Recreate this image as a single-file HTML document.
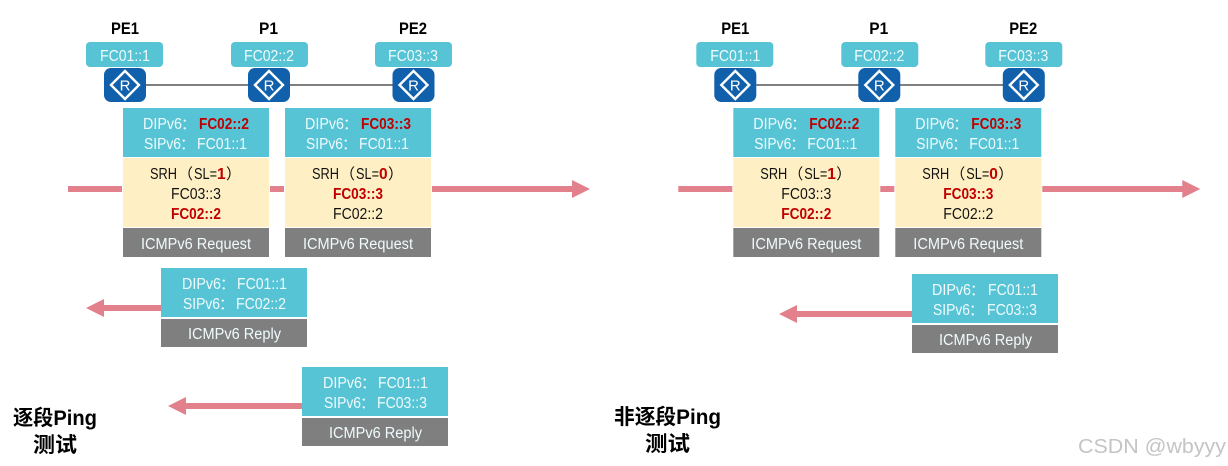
<!DOCTYPE html>
<html lang="zh">
<head>
<meta charset="utf-8">
<title>Ping</title>
<style>
html,body{margin:0;padding:0;background:#fff;width:1228px;height:466px;overflow:hidden}
svg{display:block}
text{font-family:"Liberation Sans","Noto Sans CJK SC",sans-serif;font-size:15.5px}
.c{font-family:"Noto Sans CJK SC",sans-serif;font-size:15px}
.w{fill:#f0fbfd}
.k{fill:#111}
.r{fill:#c00000;font-weight:bold}
.h{fill:#000;font-weight:bold;font-size:17px}
.t{fill:#000;font-weight:bold;font-size:21px}
.wm{fill:#c4c4c4;font-size:20px}
.rl{fill:#fff;font-size:15px}
</style>
</head>
<body>
<svg width="1228" height="466" viewBox="0 0 1228 466" xmlns="http://www.w3.org/2000/svg">
<defs>
<g id="rt">
<rect x="0" y="0" width="42" height="34" rx="7" fill="#1160ab"/>
<polygon points="21,3 35,17 21,31 7,17" fill="none" stroke="#fff" stroke-width="2.4"/>
</g>
</defs>

<!-- LEFT -->
<g id="left">
<rect x="146" y="84" width="247" height="2" fill="#7f7f7f"/>
<rect x="86" y="42" width="77" height="25" rx="4" fill="#57c4d5"/>
<rect x="231" y="42" width="77" height="25" rx="4" fill="#57c4d5"/>
<rect x="375" y="42" width="77" height="25" rx="4" fill="#57c4d5"/>
<text class="h" x="111" y="34" textLength="28" lengthAdjust="spacingAndGlyphs">PE1</text>
<text class="h" x="259" y="34" textLength="19" lengthAdjust="spacingAndGlyphs">P1</text>
<text class="h" x="399" y="34" textLength="28" lengthAdjust="spacingAndGlyphs">PE2</text>
<text class="w" x="100" y="61" textLength="50" lengthAdjust="spacingAndGlyphs">FC01::1</text>
<text class="w" x="244" y="61" textLength="50" lengthAdjust="spacingAndGlyphs">FC02::2</text>
<text class="w" x="388" y="61" textLength="50" lengthAdjust="spacingAndGlyphs">FC03::3</text>
<use href="#rt" x="104" y="68"/><text class="rl" x="125" y="90.500" text-anchor="middle">R</text>
<use href="#rt" x="248" y="68"/><text class="rl" x="269" y="90.500" text-anchor="middle">R</text>
<use href="#rt" x="392.500" y="68"/><text class="rl" x="413.500" y="90.500" text-anchor="middle">R</text>

<rect x="68" y="186" width="54" height="6" fill="#e2808c"/>
<rect x="270" y="186" width="14" height="6" fill="#e2808c"/>
<path d="M432 186H572V180L590 189L572 198V192H432Z" fill="#e2808c"/>

<g transform="translate(123,108)">
<rect width="146" height="49" fill="#57c4d5"/><rect y="50" width="146" height="69" fill="#ffefc4"/><rect y="120" width="146" height="29" fill="#7f7f7f"/>
<text class="w" x="20" y="21" textLength="39" lengthAdjust="spacingAndGlyphs">DIPv6</text><text class="w c" x="58" y="21">&#xFF1A;</text>
<text class="r" x="76" y="21" textLength="50" lengthAdjust="spacingAndGlyphs">FC02::2</text>
<text class="w" x="21" y="41" textLength="37" lengthAdjust="spacingAndGlyphs">SIPv6</text><text class="w c" x="57" y="41">&#xFF1A;</text>
<text class="w" x="74" y="41" textLength="50" lengthAdjust="spacingAndGlyphs">FC01::1</text>
<text class="k" x="27" y="71" textLength="27" lengthAdjust="spacingAndGlyphs">SRH</text>
<text class="k c" x="55" y="71">&#xFF08;</text>
<text class="k" x="71" y="71" textLength="23" lengthAdjust="spacingAndGlyphs">SL=</text>
<text class="r" x="94" y="71">1</text>
<text class="k c" x="103" y="71">&#xFF09;</text>
<text class="k" x="48" y="91" textLength="50" lengthAdjust="spacingAndGlyphs">FC03::3</text>
<text class="r" x="48" y="111" textLength="50" lengthAdjust="spacingAndGlyphs">FC02::2</text>
<text class="w" x="18" y="141" textLength="110" lengthAdjust="spacingAndGlyphs">ICMPv6 Request</text>
</g>
<g transform="translate(285,108)">
<rect width="146" height="49" fill="#57c4d5"/><rect y="50" width="146" height="69" fill="#ffefc4"/><rect y="120" width="146" height="29" fill="#7f7f7f"/>
<text class="w" x="20" y="21" textLength="39" lengthAdjust="spacingAndGlyphs">DIPv6</text><text class="w c" x="58" y="21">&#xFF1A;</text>
<text class="r" x="76" y="21" textLength="50" lengthAdjust="spacingAndGlyphs">FC03::3</text>
<text class="w" x="21" y="41" textLength="37" lengthAdjust="spacingAndGlyphs">SIPv6</text><text class="w c" x="57" y="41">&#xFF1A;</text>
<text class="w" x="74" y="41" textLength="50" lengthAdjust="spacingAndGlyphs">FC01::1</text>
<text class="k" x="27" y="71" textLength="27" lengthAdjust="spacingAndGlyphs">SRH</text>
<text class="k c" x="55" y="71">&#xFF08;</text>
<text class="k" x="71" y="71" textLength="23" lengthAdjust="spacingAndGlyphs">SL=</text>
<text class="r" x="94" y="71">0</text>
<text class="k c" x="103" y="71">&#xFF09;</text>
<text class="r" x="48" y="91" textLength="50" lengthAdjust="spacingAndGlyphs">FC03::3</text>
<text class="k" x="48" y="111" textLength="50" lengthAdjust="spacingAndGlyphs">FC02::2</text>
<text class="w" x="18" y="141" textLength="110" lengthAdjust="spacingAndGlyphs">ICMPv6 Request</text>
</g>

<path d="M161 305H104V299L86 308L104 317V311H161Z" fill="#e2808c"/>
<g transform="translate(161,268)">
<rect width="146" height="49" fill="#57c4d5"/><rect y="51" width="146" height="28" fill="#7f7f7f"/>
<text class="w" x="21" y="21" textLength="39" lengthAdjust="spacingAndGlyphs">DIPv6</text><text class="w c" x="59" y="21">&#xFF1A;</text>
<text class="w" x="76" y="21" textLength="50" lengthAdjust="spacingAndGlyphs">FC01::1</text>
<text class="w" x="22" y="41" textLength="37" lengthAdjust="spacingAndGlyphs">SIPv6</text><text class="w c" x="58" y="41">&#xFF1A;</text>
<text class="w" x="75" y="41" textLength="50" lengthAdjust="spacingAndGlyphs">FC02::2</text>
<text class="w" x="27" y="71" textLength="93" lengthAdjust="spacingAndGlyphs">ICMPv6 Reply</text>
</g>

<path d="M302 403H186V397L168 406L186 415V409H302Z" fill="#e2808c"/>
<g transform="translate(302,367)">
<rect width="146" height="49" fill="#57c4d5"/><rect y="51" width="146" height="28" fill="#7f7f7f"/>
<text class="w" x="21" y="21" textLength="39" lengthAdjust="spacingAndGlyphs">DIPv6</text><text class="w c" x="59" y="21">&#xFF1A;</text>
<text class="w" x="76" y="21" textLength="50" lengthAdjust="spacingAndGlyphs">FC01::1</text>
<text class="w" x="22" y="41" textLength="37" lengthAdjust="spacingAndGlyphs">SIPv6</text><text class="w c" x="58" y="41">&#xFF1A;</text>
<text class="w" x="75" y="41" textLength="50" lengthAdjust="spacingAndGlyphs">FC03::3</text>
<text class="w" x="27" y="71" textLength="93" lengthAdjust="spacingAndGlyphs">ICMPv6 Reply</text>
</g>

<text class="t" x="13" y="425" textLength="84" lengthAdjust="spacingAndGlyphs">逐段Ping</text>
<text class="t" x="33" y="452" textLength="44" lengthAdjust="spacingAndGlyphs">测试</text>
</g>

<!-- RIGHT -->
<g transform="translate(610.300,0)">
<rect x="146" y="84" width="247" height="2" fill="#7f7f7f"/>
<rect x="86" y="42" width="77" height="25" rx="4" fill="#57c4d5"/>
<rect x="231" y="42" width="77" height="25" rx="4" fill="#57c4d5"/>
<rect x="375" y="42" width="77" height="25" rx="4" fill="#57c4d5"/>
<text class="h" x="111" y="34" textLength="28" lengthAdjust="spacingAndGlyphs">PE1</text>
<text class="h" x="259" y="34" textLength="19" lengthAdjust="spacingAndGlyphs">P1</text>
<text class="h" x="399" y="34" textLength="28" lengthAdjust="spacingAndGlyphs">PE2</text>
<text class="w" x="100" y="61" textLength="50" lengthAdjust="spacingAndGlyphs">FC01::1</text>
<text class="w" x="244" y="61" textLength="50" lengthAdjust="spacingAndGlyphs">FC02::2</text>
<text class="w" x="388" y="61" textLength="50" lengthAdjust="spacingAndGlyphs">FC03::3</text>
<use href="#rt" x="104" y="68"/><text class="rl" x="125" y="90.500" text-anchor="middle">R</text>
<use href="#rt" x="248" y="68"/><text class="rl" x="269" y="90.500" text-anchor="middle">R</text>
<use href="#rt" x="392.500" y="68"/><text class="rl" x="413.500" y="90.500" text-anchor="middle">R</text>

<rect x="68" y="186" width="54" height="6" fill="#e2808c"/>
<rect x="270" y="186" width="14" height="6" fill="#e2808c"/>
<path d="M432 186H572V180L590 189L572 198V192H432Z" fill="#e2808c"/>

<g transform="translate(123,108)">
<rect width="146" height="49" fill="#57c4d5"/><rect y="50" width="146" height="69" fill="#ffefc4"/><rect y="120" width="146" height="29" fill="#7f7f7f"/>
<text class="w" x="20" y="21" textLength="39" lengthAdjust="spacingAndGlyphs">DIPv6</text><text class="w c" x="58" y="21">&#xFF1A;</text>
<text class="r" x="76" y="21" textLength="50" lengthAdjust="spacingAndGlyphs">FC02::2</text>
<text class="w" x="21" y="41" textLength="37" lengthAdjust="spacingAndGlyphs">SIPv6</text><text class="w c" x="57" y="41">&#xFF1A;</text>
<text class="w" x="74" y="41" textLength="50" lengthAdjust="spacingAndGlyphs">FC01::1</text>
<text class="k" x="27" y="71" textLength="27" lengthAdjust="spacingAndGlyphs">SRH</text>
<text class="k c" x="55" y="71">&#xFF08;</text>
<text class="k" x="71" y="71" textLength="23" lengthAdjust="spacingAndGlyphs">SL=</text>
<text class="r" x="94" y="71">1</text>
<text class="k c" x="103" y="71">&#xFF09;</text>
<text class="k" x="48" y="91" textLength="50" lengthAdjust="spacingAndGlyphs">FC03::3</text>
<text class="r" x="48" y="111" textLength="50" lengthAdjust="spacingAndGlyphs">FC02::2</text>
<text class="w" x="18" y="141" textLength="110" lengthAdjust="spacingAndGlyphs">ICMPv6 Request</text>
</g>
<g transform="translate(285,108)">
<rect width="146" height="49" fill="#57c4d5"/><rect y="50" width="146" height="69" fill="#ffefc4"/><rect y="120" width="146" height="29" fill="#7f7f7f"/>
<text class="w" x="20" y="21" textLength="39" lengthAdjust="spacingAndGlyphs">DIPv6</text><text class="w c" x="58" y="21">&#xFF1A;</text>
<text class="r" x="76" y="21" textLength="50" lengthAdjust="spacingAndGlyphs">FC03::3</text>
<text class="w" x="21" y="41" textLength="37" lengthAdjust="spacingAndGlyphs">SIPv6</text><text class="w c" x="57" y="41">&#xFF1A;</text>
<text class="w" x="74" y="41" textLength="50" lengthAdjust="spacingAndGlyphs">FC01::1</text>
<text class="k" x="27" y="71" textLength="27" lengthAdjust="spacingAndGlyphs">SRH</text>
<text class="k c" x="55" y="71">&#xFF08;</text>
<text class="k" x="71" y="71" textLength="23" lengthAdjust="spacingAndGlyphs">SL=</text>
<text class="r" x="94" y="71">0</text>
<text class="k c" x="103" y="71">&#xFF09;</text>
<text class="r" x="48" y="91" textLength="50" lengthAdjust="spacingAndGlyphs">FC03::3</text>
<text class="k" x="48" y="111" textLength="50" lengthAdjust="spacingAndGlyphs">FC02::2</text>
<text class="w" x="18" y="141" textLength="110" lengthAdjust="spacingAndGlyphs">ICMPv6 Request</text>
</g>
</g>

<path d="M912 311H797V305L779 314L797 323V317H912Z" fill="#e2808c"/>
<g transform="translate(912,274)">
<rect width="146" height="49" fill="#57c4d5"/><rect y="51" width="146" height="28" fill="#7f7f7f"/>
<text class="w" x="20" y="21" textLength="39" lengthAdjust="spacingAndGlyphs">DIPv6</text><text class="w c" x="58" y="21">&#xFF1A;</text>
<text class="w" x="76" y="21" textLength="50" lengthAdjust="spacingAndGlyphs">FC01::1</text>
<text class="w" x="21" y="41" textLength="37" lengthAdjust="spacingAndGlyphs">SIPv6</text><text class="w c" x="57" y="41">&#xFF1A;</text>
<text class="w" x="75" y="41" textLength="50" lengthAdjust="spacingAndGlyphs">FC03::3</text>
<text class="w" x="27" y="71" textLength="93" lengthAdjust="spacingAndGlyphs">ICMPv6 Reply</text>
</g>

<text class="t" x="614" y="424" textLength="107" lengthAdjust="spacingAndGlyphs">非逐段Ping</text>
<text class="t" x="645" y="451" textLength="45" lengthAdjust="spacingAndGlyphs">测试</text>

<text class="wm" x="1078" y="453" textLength="148" lengthAdjust="spacingAndGlyphs">CSDN @wbyyy</text>
</svg>
</body>
</html>
